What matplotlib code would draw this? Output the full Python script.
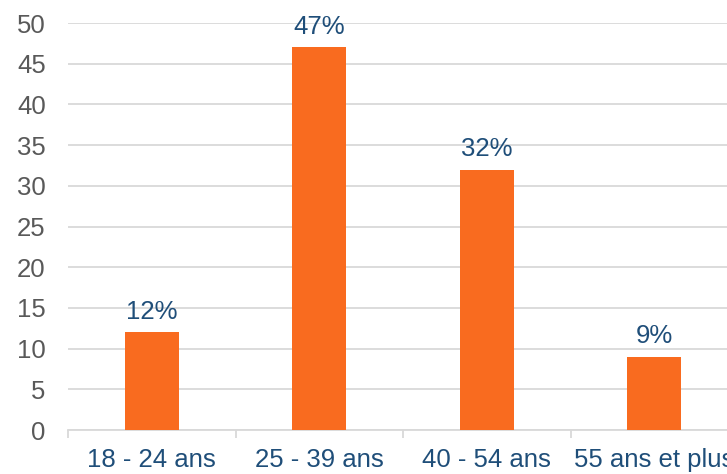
import matplotlib.pyplot as plt
import numpy as np

plt.rcParams['font.family'] = ['Liberation Sans', 'DejaVu Sans']

categories = ['18 - 24 ans', '25 - 39 ans', '40 - 54 ans', '55 ans et plus']
values = [12, 47, 32, 9]
labels = ['12%', '47%', '32%', '9%']

bar_color = '#F96B1F'
label_color = '#1F4E79'
grid_color = '#D9D9D9'

fig = plt.figure(figsize=(7.27, 4.74), dpi=100)
W, H = 727, 474
ax = fig.add_axes([68 / W, 44 / H, (738 - 68) / W, (430 - 23) / H])

x = np.arange(len(categories))
bars = ax.bar(x, values, width=0.32, color=bar_color, zorder=3)

for xi, v, lab in zip(x, values, labels):
    ax.annotate(lab, (xi, v), xytext=(0, 6), textcoords='offset points',
                ha='center', va='bottom', fontsize=18.5, color=label_color)

ax.set_xlim(-0.5, len(categories) - 0.5)
ax.set_ylim(0, 50)
ax.set_yticks(np.arange(0, 51, 5))
ax.yaxis.grid(True, color=grid_color, linewidth=1.3, zorder=0)

ax.set_xticks(x)
ax.set_xticklabels(categories)
ax.set_xticks(np.arange(-0.5, len(categories)), minor=True)
ax.tick_params(axis='x', which='major', length=0, pad=13, labelsize=18.5,
               labelcolor=label_color)
ax.tick_params(axis='x', which='minor', length=6, width=1.3, color=grid_color)
ax.tick_params(axis='y', length=0, pad=16, labelsize=18.5, labelcolor='#595959')

for s in ['top', 'right', 'left']:
    ax.spines[s].set_visible(False)
ax.spines['bottom'].set_color(grid_color)
ax.spines['bottom'].set_linewidth(1.3)

fig.savefig('out.png', dpi=100)
